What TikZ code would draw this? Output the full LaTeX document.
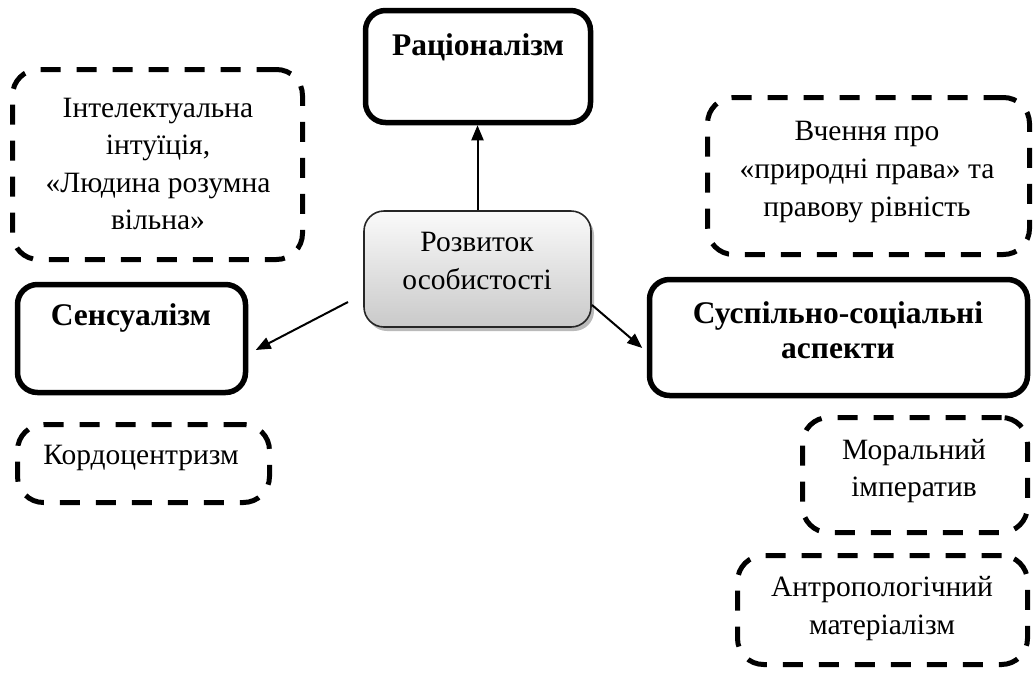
\documentclass[tikz,border=0pt]{standalone}
\usepackage{fontspec}
\setmainfont{Liberation Serif}
\usetikzlibrary{arrows.meta,shadows,calc}
\begin{document}
\begin{tikzpicture}[x=1pt,y=-1pt,
  solidbox/.style={draw=black,line width=5.5pt,rounded corners=20pt,fill=white},
  dashbox/.style={draw=black,line width=5pt,rounded corners=26pt,dash pattern=on 20pt off 16pt},
  centerbox/.style={draw=black!85,line width=1.6pt,rounded corners=20pt,
    top color=gray!4,bottom color=gray!42,
    drop shadow={shadow xshift=3pt,shadow yshift=-4pt,fill=black!45,opacity=.6}},
  txt/.style={align=center,inner sep=0pt,font=\fontsize{29.5}{37.5}\selectfont},
  btxt/.style={align=center,inner sep=0pt,font=\fontsize{31.5}{35}\selectfont\bfseries},
  arr/.style={line width=2pt,-{Triangle[length=15pt,width=12pt]}}]
\useasboundingbox (0,0) rectangle (1035,675);

% boxes
\node[solidbox,minimum width=225pt,minimum height=112pt] (rat) at (478,66.5) {};
\node[dashbox,minimum width=290pt,minimum height=190pt] (intu) at (157.5,164.5) {};
\node[centerbox,minimum width=227pt,minimum height=116pt] (dev) at (477.5,269) {};
\node[solidbox,minimum width=228pt,minimum height=108pt] (sen) at (131.5,338.5) {};
\node[dashbox,minimum width=252pt,minimum height=78pt] (kord) at (143.5,463.5) {};
\node[dashbox,minimum width=322pt,minimum height=157pt] (rights) at (868.5,176) {};
\node[solidbox,minimum width=378pt,minimum height=116pt] (soc) at (838.5,337.5) {};
\node[dashbox,minimum width=225pt,minimum height=115pt] (moral) at (915,475) {};
\node[dashbox,minimum width=290pt,minimum height=109pt] (anthr) at (882.5,610) {};

% texts
\node[btxt] (ratT) at (478,47) {Раціоналізм};
\node[txt] (intuT) at (158,164) {Інтелектуальна\\інтуїція,\\«Людина розумна\\вільна»};
\node[txt,font=\fontsize{29.5}{38}\selectfont] (devT) at (477,261) {Розвиток\\особистості};
\node[btxt] (senT) at (131,318) {Сенсуалізм};
\node[txt] (kordT) at (141,458) {Кордоцентризм};
\node[txt,font=\fontsize{29.5}{38}\selectfont] (rightsT) at (867,172) {Вчення про\\«природні права» та\\правову рівність};
\node[btxt] (socT) at (838,330.5) {Суспільно-соціальні\\аспекти};
\node[txt,font=\fontsize{29.5}{37}\selectfont] (moralT) at (914,471.5) {Моральний\\імператив};
\node[txt,font=\fontsize{29.5}{38}\selectfont] (anthrT) at (882,609) {Антропологічний\\матеріалізм};

% connectors
\coordinate (senStart) at (348,302);
\coordinate (socStart) at (592,305);
\draw[arr] (dev.north) -- (dev.north |- rat.south);
\draw[arr] (senStart) -- ([shift={(7.5,11.5)}]sen.east);
\draw[arr] (socStart) -- ([shift={(-4.5,10.5)}]soc.west);
\end{tikzpicture}
\end{document}
